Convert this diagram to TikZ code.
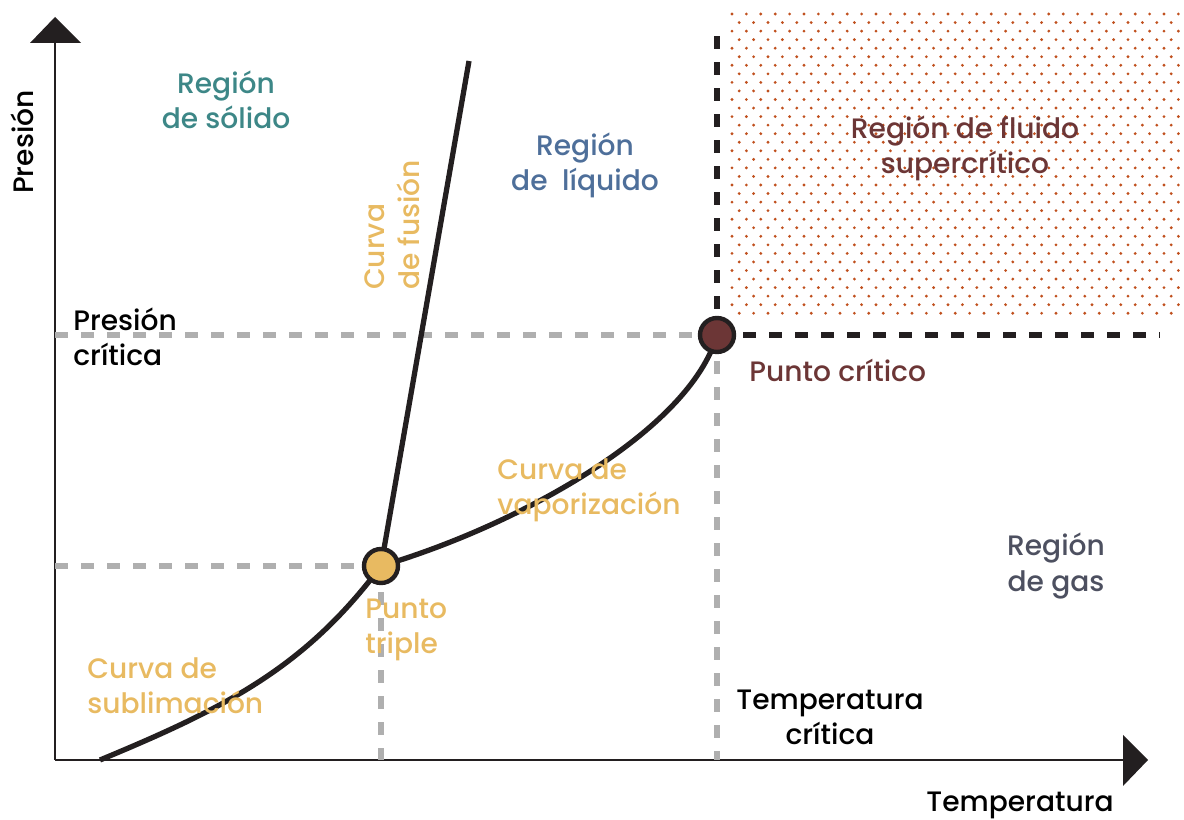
\documentclass[tikz,border=0pt]{standalone}
\usepackage{fontspec}
\setmainfont{Poppins}[UprightFont=* Medium]
\usetikzlibrary{positioning}
\definecolor{ink}{HTML}{231F20}
\definecolor{solido}{HTML}{3D8787}
\definecolor{liquido}{HTML}{4E6F9A}
\definecolor{curva}{HTML}{E8BA61}
\definecolor{critico}{HTML}{6C3636}
\definecolor{gas}{HTML}{4D5060}
\definecolor{puntos}{HTML}{C0501E}
\definecolor{guia}{HTML}{AFAFAF}
\begin{document}
\begin{tikzpicture}[x=0.02cm, y=-0.02cm, node distance = 0.3cm,
   lbl/.style = {font=\fontsize{16}{20}\selectfont, align=center, inner sep=0pt},
   axis/.style = {ink, line width=1.7pt},
   curve/.style = {ink, line width=3pt},
   guide/.style = {guia, line width=3pt, dash pattern=on 7.4pt off 7.4pt},
   limit/.style = {ink, line width=3pt, dash pattern=on 7.4pt off 7.4pt},
   point/.style = {circle, draw=ink, line width=2.5pt, minimum size=0.68cm, inner sep=0pt}]
   \useasboundingbox (0,0) rectangle (1184,820);
   % supercritical dots
   \foreach \r in {0,...,35} {
      \pgfmathsetmacro{\yy}{14+8.55*\r}
      \pgfmathsetmacro{\xo}{732+7.2*mod(\r,2)}
      \foreach \c in {0,...,31} {
         \fill[puntos] ({\xo+14.4*\c},\yy) circle (0.9pt);
      }
   }
   % axes
   \coordinate (O) at (55,760);
   \coordinate (ytop) at (55,43);
   \coordinate (xend) at (1123,760);
   \draw[axis] (O) -- (ytop);
   \draw[axis] (O) -- (xend);
   \fill[ink] (30,43) -- (55,17) -- (81,43) -- cycle;
   \fill[ink] (1123,735) -- (1148,760) -- (1123,786) -- cycle;
   % points
   \coordinate (tpc) at (381,566);
   \coordinate (cpc) at (717,335);
   \coordinate (sub) at (100,760);
   \coordinate (fus) at (469,61);
   \coordinate (pc) at (55,335);
   \coordinate (pt) at (55,566);
   \coordinate (tt) at (381,760);
   \coordinate (tc) at (717,760);
   \coordinate (ctop) at (717,30);
   \coordinate (cright) at (1160,335);
   % guides
   \draw[guide] (pc) -- (cpc);
   \draw[guide] (pt) -- (tpc);
   \draw[guide] (tpc) -- (tt);
   \draw[guide] (cpc) -- (tc);
   \draw[limit] (cpc) -- (ctop);
   \draw[limit] (cpc) -- (cright);
   % curves
   \draw[curve] (tpc) -- (fus);
   \draw[curve] (sub) .. controls (225,708) and (305,668) .. (tpc);
   \draw[curve] (tpc) .. controls (520,525) and (690,430) .. (cpc);
   \node[point, fill=curva] (tp) at (tpc) {};
   \node[point, fill=critico] (cp) at (cpc) {};
   % labels
   \node[lbl, rotate=90] (ylab) at (22,142) {Presión};
   \node[lbl] (xlab) at (1020,805) {Temperatura};
   \node[lbl, solido] (solid) at (226,100) {Región\\de sólido};
   \node[lbl, liquido] (liquid) at (585,165) {Región\\de\ \ líquido};
   \node[lbl, critico] (fluid) at (965,148) {Región de fluido\\supercrítico};
   \node[lbl, gas] (gasreg) at (1056,566) {Región\\de gas};
   \node[lbl, curva, rotate=90, align=left] (fusion) at (392,225) {Curva\\de fusión};
   \node[lbl, align=left, anchor=west] (pclab) at (73,337) {Presión\\crítica};
   \node[lbl, critico, anchor=west] (cplab) at (749,370) {Punto crítico};
   \node[lbl, curva, align=left, anchor=west] (vap) at (497,490) {Curva de\\vaporización};
   \node[lbl, curva, align=left, anchor=west] (tplab) at (365,630) {Punto\\triple};
   \node[lbl, curva, align=left, anchor=west] (subl) at (87,686) {Curva de\\sublimación};
   \node[lbl] (tclab) at (830,717) {Temperatura\\crítica};
\end{tikzpicture}
\end{document}
